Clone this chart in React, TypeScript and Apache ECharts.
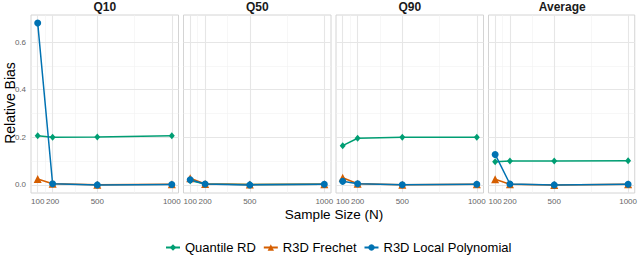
import React, { useEffect, useRef } from "react";
import * as echarts from "echarts";

const panels = ["Q10", "Q50", "Q90", "Average"];
const sampleSizes = [100, 200, 500, 1000];
const xTicks = [100, 200, 500, 1000];
const xMinor = [150, 350, 750];
const yTicks = [0, 0.2, 0.4, 0.6];
const yMinor = [0.1, 0.3, 0.5];

// per panel: Q10, Q50, Q90, Average
const quantileRD = [
  [0.207, 0.2, 0.201, 0.207],
  [0.018, 0.004, 0.002, 0.003],
  [0.165, 0.196, 0.2, 0.2],
  [0.097, 0.1, 0.1, 0.102],
];
const r3dFrechet = [
  [0.025, 0.005, 0.001, 0.003],
  [0.028, 0.004, 0.002, 0.003],
  [0.03, 0.005, 0.001, 0.003],
  [0.024, 0.003, 0.0, 0.003],
];
const r3dLocalPoly = [
  [0.68, 0.005, 0.0, 0.002],
  [0.022, 0.004, 0.0, 0.003],
  [0.015, 0.005, 0.001, 0.003],
  [0.128, 0.004, 0.0, 0.003],
];

const methods = [
  { name: "Quantile RD", data: quantileRD, color: "#009E73", symbol: "diamond", size: [6, 7] },
  { name: "R3D Frechet", data: r3dFrechet, color: "#D55E00", symbol: "triangle", size: 8 },
  { name: "R3D Local Polynomial", data: r3dLocalPoly, color: "#0072B2", symbol: "circle", size: 7 },
];

const FONT = "Liberation Sans, Arial, sans-serif";

export default function App() {
  const ref = useRef<HTMLDivElement>(null);
  useEffect(() => {
    document.body.style.margin = "0";
    const chart = echarts.init(ref.current!, null, { renderer: "svg" });
    const lefts = [31, 183.5, 336, 488.5];
    const w = 147.5;
    const top = 15;
    const h = 178;
    const grids = lefts.map((l) => ({
      left: l,
      top,
      width: w,
      height: h,
      show: true,
      borderColor: "#d4d4d4",
      borderWidth: 1,
      backgroundColor: "transparent",
    }));
    const xAxes = lefts.map((_, i) => ({
      type: "value",
      gridIndex: i,
      min: 55,
      max: 1045,
      axisLine: { show: false },
      axisTick: { show: false },
      splitLine: { show: false },
      axisLabel: {
        customValues: xTicks,
        formatter: (v: number) => String(v),
        fontSize: 8,
        color: "#666",
        fontFamily: FONT,
        margin: 4,
      },
    }));
    const yAxes = lefts.map((_, i) => ({
      type: "value",
      gridIndex: i,
      min: -0.034,
      max: 0.714,
      axisLine: { show: false },
      axisTick: { show: false },
      splitLine: { show: false },
      axisLabel: {
        show: i === 0,
        customValues: yTicks,
        formatter: (v: number) => v.toFixed(1),
        fontSize: 8,
        color: "#666",
        fontFamily: FONT,
        margin: 5,
      },
    }));
    const major = { color: "#e6e6e6", width: 1.1, type: "solid" };
    const minor = { color: "#f2f2f2", width: 0.6, type: "solid" };
    const gridSeries = lefts.map((_, i) => ({
      type: "line",
      xAxisIndex: i,
      yAxisIndex: i,
      data: [[100, 0]],
      showSymbol: false,
      symbol: "none",
      lineStyle: { opacity: 0 },
      silent: true,
      z: 0,
      markLine: {
        silent: true,
        z: 0,
        symbol: ["none", "none"],
        label: { show: false },
        animation: false,
        data: [
          ...yMinor.map((v) => ({ yAxis: v, lineStyle: minor })),
          ...xMinor.map((v) => ({ xAxis: v, lineStyle: minor })),
          ...yTicks.map((v) => ({ yAxis: v, lineStyle: major })),
          ...xTicks.map((v) => ({ xAxis: v, lineStyle: major })),
        ],
      },
    }));
    const dataSeries: any[] = [];
    methods.forEach((m) => {
      panels.forEach((_, i) => {
        dataSeries.push({
          type: "line",
          name: m.name,
          xAxisIndex: i,
          yAxisIndex: i,
          data: sampleSizes.map((n, k) => [n, m.data[i][k]]),
          symbol: m.symbol,
          symbolSize: m.size,
          showSymbol: true,
          itemStyle: { color: m.color, borderColor: m.color, borderWidth: 0, opacity: 1 },
          lineStyle: { color: m.color, width: 1.5 },
          z: 10,
        });
      });
    });
    const graphics: any[] = panels.map((p, i) => ({
      type: "text",
      x: lefts[i] + w / 2,
      y: 7,
      style: {
        text: p,
        textAlign: "center",
        textVerticalAlign: "middle",
        fontSize: 12,
        fontWeight: "bold",
        fontFamily: FONT,
        fill: "#1a1a1a",
      },
    }));
    graphics.push({
      type: "text",
      x: 10,
      y: 103,
      rotation: Math.PI / 2,
      style: {
        text: "Relative Bias",
        textAlign: "center",
        textVerticalAlign: "middle",
        fontSize: 14,
        fontFamily: FONT,
        fill: "#000",
      },
    });
    graphics.push({
      type: "text",
      x: 334,
      y: 214,
      style: {
        text: "Sample Size (N)",
        textAlign: "center",
        textVerticalAlign: "middle",
        fontSize: 13.5,
        fontFamily: FONT,
        fill: "#000",
      },
    });
    chart.setOption({
      animation: false,
      grid: grids,
      xAxis: xAxes,
      yAxis: yAxes,
      legend: {
        data: methods.map((m) => m.name),
        left: 160,
        top: 236,
        itemWidth: 14,
        itemHeight: 8,
        itemGap: 7,
        textStyle: { fontSize: 13, fontFamily: FONT, color: "#000" },
      },
      graphic: graphics,
      series: [...gridSeries, ...dataSeries],
    });
    return () => chart.dispose();
  }, []);
  return <div ref={ref} style={{ width: 640, height: 272 }} />;
}
